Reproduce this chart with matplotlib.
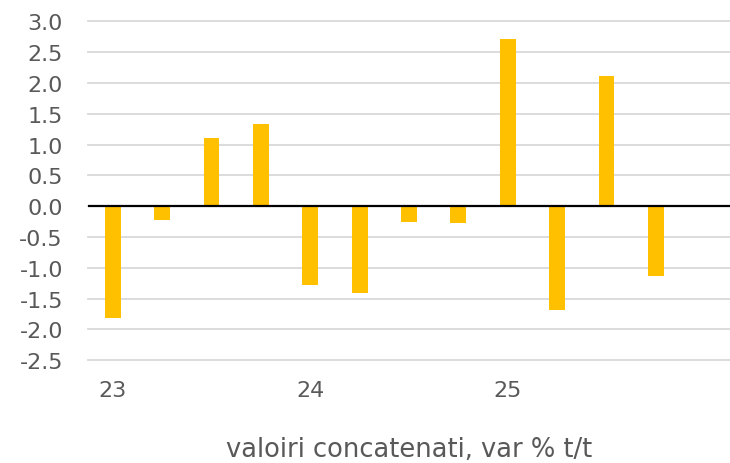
import matplotlib.pyplot as plt

# quarterly values, 2023 Q1 .. 2025 Q4 (last slot empty)
quarters = list(range(13))
values = [-1.81, -0.22, 1.10, 1.34, -1.28, -1.41, -0.25, -0.28, 2.71, -1.68, 2.12, -1.13, None]
tick_pos = [0, 4, 8]
tick_labels = ["23", "24", "25"]
yticks = [-2.5, -2.0, -1.5, -1.0, -0.5, 0.0, 0.5, 1.0, 1.5, 2.0, 2.5, 3.0]

W, H = 730, 464
fig = plt.figure(figsize=(W / 100, H / 100), dpi=100)
ax = fig.add_axes([88 / W, 1 - 361.3 / H, 1 - 88 / W, (361.3 - 22.3) / H])

xs = [q for q, v in zip(quarters, values) if v is not None]
vs = [v for v in values if v is not None]
ax.bar(xs, vs, width=0.32, color="#FFC000", zorder=2)
ax.axhline(0, color="black", lw=1.6, zorder=3)

ax.set_xlim(-0.5, 12.5)
ax.set_ylim(-2.5, 3.0)
ax.set_yticks(yticks)
ax.set_yticklabels([f"{t:.1f}" for t in yticks])
ax.set_xticks(tick_pos)
ax.set_xticklabels(tick_labels)
ax.grid(axis="y", color="#d9d9d9", lw=1.3, zorder=0)
for gl in ax.yaxis.get_gridlines():
    gl.set_clip_on(False)
ax.set_axisbelow(True)
for s in ax.spines.values():
    s.set_visible(False)
ax.tick_params(axis="both", length=0, labelsize=16, labelcolor="#595959")
ax.tick_params(axis="y", pad=18)
ax.tick_params(axis="x", pad=14)
ax.set_xlabel("valoiri concatenati, var % t/t", fontsize=18.5, color="#595959", labelpad=26)

fig.savefig("out.png", dpi=100)
